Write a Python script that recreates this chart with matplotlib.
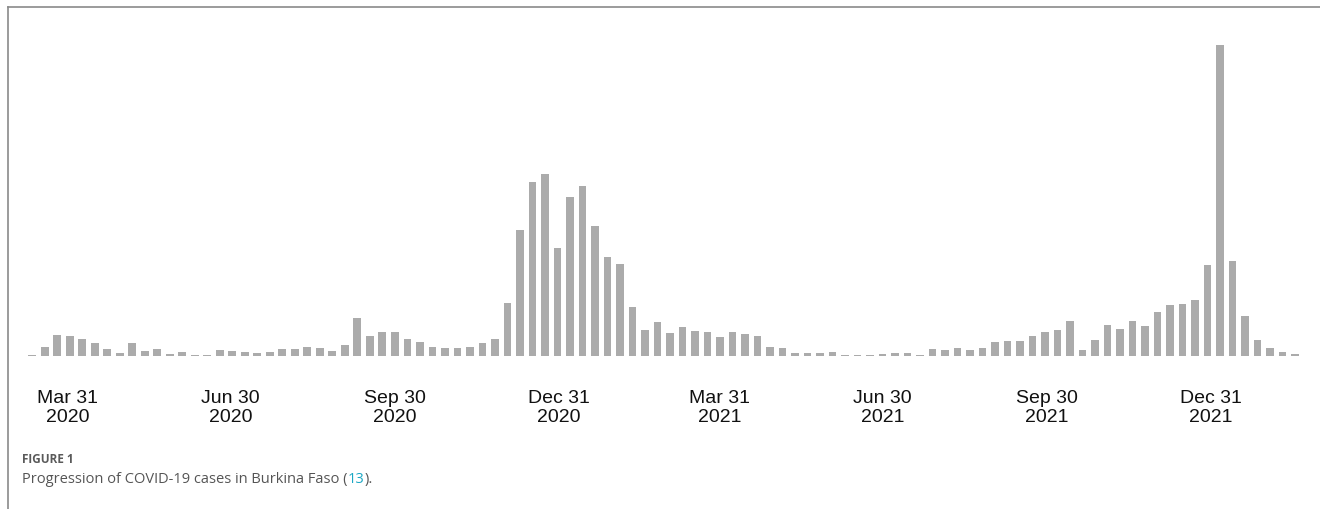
"""
Weekly COVID-19 cases in Burkina Faso, Mar 2020 - Feb 2022 (Figure 1).
"""

import numpy as np
import pandas as pd
import matplotlib
matplotlib.use("Agg")
import matplotlib.pyplot as plt
import matplotlib.dates as mdates
from matplotlib.lines import Line2D

# weekly new cases (relative)
week_start = pd.date_range("2020-03-10", periods=102, freq="7D")
weekly_cases = [
    1, 9, 21, 20, 17, 13, 7, 3, 13, 5, 7, 2, 4, 1, 1, 6, 5,
    4, 3, 4, 7, 7, 9, 8, 5, 11, 38, 20, 24, 24, 17, 14, 9, 8,
    8, 9, 13, 17, 53, 126, 174, 182, 108, 159, 170, 130, 99, 92, 49, 26, 34,
    23, 29, 25, 24, 19, 24, 22, 20, 9, 8, 3, 3, 3, 4, 1, 1, 1,
    2, 3, 3, 1, 7, 6, 8, 6, 8, 14, 15, 15, 20, 24, 26, 35, 6,
    16, 31, 27, 35, 30, 44, 51, 52, 56, 91, 311, 95, 40, 16, 8, 4, 2,
]
tick_dates = ["2020-03-31", "2020-06-30", "2020-09-30", "2020-12-31",
              "2021-03-31", "2021-06-30", "2021-09-30", "2021-12-31"]
tick_labels = ["Mar 31\n2020", "Jun 30\n2020", "Sep 30\n2020", "Dec 31\n2020",
               "Mar 31\n2021", "Jun 30\n2021", "Sep 30\n2021", "Dec 31\n2021"]

caption_head = "FIGURE 1"
caption_text = "Progression of COVID-19 cases in Burkina Faso ("
caption_ref = "13"
caption_tail = ")."

W, H = 1320, 510
fig = plt.figure(figsize=(W / 100, H / 100), dpi=100)

# axes box in pixels: x 20..1310, y from baseline 357 up to 40
ax_l, ax_r, ax_top, ax_base = 20, 1310, 40, 357
ax = fig.add_axes([ax_l / W, 1 - ax_base / H, (ax_r - ax_l) / W,
                   (ax_base - ax_top) / H])

px_per_day = 1.786
anchor = mdates.date2num(pd.Timestamp("2020-03-31"))
x0 = anchor - (68 - ax_l) / px_per_day
x1 = anchor + (ax_r - 68) / px_per_day

ax.bar(week_start + pd.Timedelta(days=1), weekly_cases, width=4.3,
       color="#ababab", align="center")
ax.set_xlim(x0, x1)
ax.set_ylim(0, ax_base - ax_top)

ax.set_xticks([mdates.date2num(pd.Timestamp(d)) for d in tick_dates])
ax.set_xticklabels(tick_labels, fontsize=14, family="Liberation Sans",
                   color="#111111", linespacing=1.15)
ax.tick_params(axis="x", length=0, pad=24)
ax.set_yticks([])
for s in ax.spines.values():
    s.set_visible(False)

# outer frame (top + left)
fig.add_artist(Line2D([8 / W, 1], [1 - 8 / H, 1 - 8 / H], color="#8a8a8a",
                      linewidth=1.2, transform=fig.transFigure))
fig.add_artist(Line2D([8 / W, 8 / W], [0, 1 - 8 / H], color="#8a8a8a",
                      linewidth=1.2, transform=fig.transFigure))

# caption
fig.text(22 / W, 1 - 463 / H, caption_head, fontsize=8.5, family="Open Sans",
         fontweight="bold", color="#5a5a5a", va="baseline")
t1 = fig.text(22 / W, 1 - 483 / H, caption_text, fontsize=10.5,
              family="Open Sans", color="#555555", va="baseline")
fig.canvas.draw()
r = fig.canvas.get_renderer()
xa = t1.get_window_extent(r).x1 / W
t2 = fig.text(xa, 1 - 483 / H, caption_ref, fontsize=10.5, family="Open Sans",
              color="#1aa7c4", va="baseline")
xb = t2.get_window_extent(r).x1 / W
fig.text(xb, 1 - 483 / H, caption_tail, fontsize=10.5, family="Open Sans",
         color="#555555", va="baseline")

fig.savefig("out.png", dpi=100)
